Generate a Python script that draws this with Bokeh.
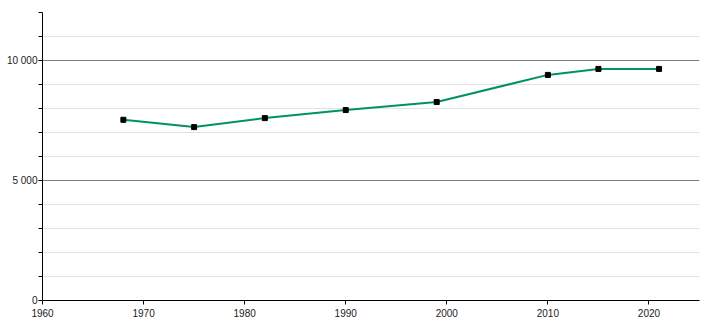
from bokeh.plotting import figure
from bokeh.models import FixedTicker, CustomJSTickFormatter, Range1d
from bokeh.embed import file_html
from bokeh.resources import INLINE

years = [1968, 1975, 1982, 1990, 1999, 2010, 2015, 2021]
population = [7530, 7225, 7600, 7935, 8270, 9400, 9650, 9650]
x_ticks = [1960, 1970, 1980, 1990, 2000, 2010, 2020]
y_ticks = [0, 5000, 10000]
y_minor = list(range(0, 12001, 1000))

p = figure(width=710, height=320, output_backend="svg", toolbar_location=None,
           x_range=Range1d(1960, 2025), y_range=Range1d(0, 12000),
           min_border_left=42, min_border_right=11, min_border_top=12, min_border_bottom=20)
p.outline_line_color = None
p.background_fill_color = "white"
p.border_fill_color = "white"

p.xgrid.grid_line_color = None
p.ygrid.grid_line_color = "#808080"
p.ygrid.grid_line_width = 1
p.ygrid.minor_grid_line_color = "#e3e3e3"
p.ygrid.ticker = FixedTicker(ticks=y_ticks, minor_ticks=y_minor)

p.xaxis.ticker = FixedTicker(ticks=x_ticks, minor_ticks=[])
p.yaxis.ticker = FixedTicker(ticks=y_ticks, minor_ticks=y_minor)
p.yaxis.formatter = CustomJSTickFormatter(code="""
return tick.toFixed(0).replace(/\\B(?=(\\d{3})+(?!\\d))/g, " ");
""")

for ax in (p.xaxis[0], p.yaxis[0]):
    ax.axis_line_color = "black"
    ax.axis_line_width = 1
    ax.major_tick_line_color = "black"
    ax.minor_tick_line_color = "black"
    ax.major_tick_in = 0
    ax.major_tick_out = 4
    ax.minor_tick_in = 0
    ax.minor_tick_out = 4
    ax.major_label_text_font = "Liberation Sans"
    ax.major_label_text_font_size = "10px"
    ax.major_label_text_color = "#222222"

p.xaxis[0].major_label_standoff = 4
p.yaxis[0].major_label_standoff = 1

p.line(years, population, line_color="#00916a", line_width=2)
p.scatter(years, population, marker="square", size=5, fill_color="black", line_color="black")

open("out.html", "w").write(file_html(p, INLINE))
